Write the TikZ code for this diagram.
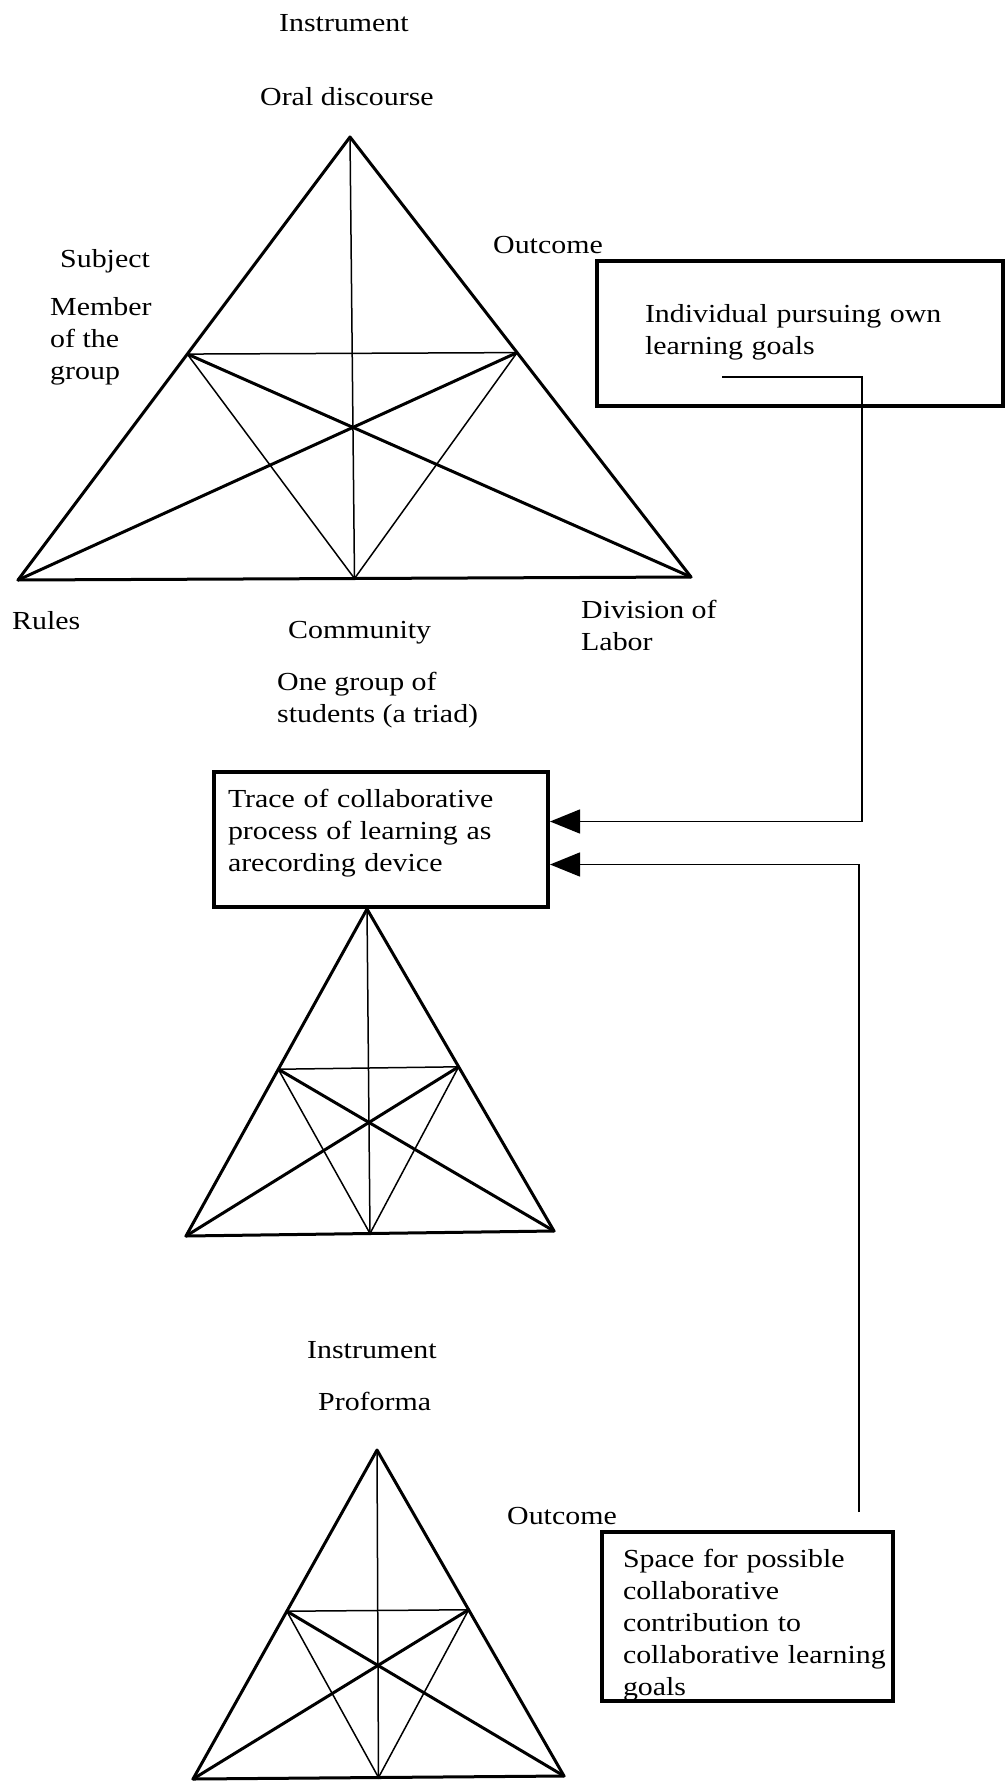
\documentclass[tikz,border=0pt]{standalone}
\usepackage{fontspec}
\setmainfont{Liberation Serif}[FakeStretch=1.15]
\usetikzlibrary{calc,arrows.meta}
\tikzset{
	heavy/.style={line width=3pt, line join=round, line cap=round},
	light/.style={line width=1.5pt, line cap=round},
	txt/.style={inner sep=0pt, anchor=base west, align=left, font=\fontsize{26}{32}\selectfont},
	box/.style={rectangle, draw=black, line width=4pt, anchor=north west, align=left, inner ysep=0pt, font=\fontsize{26}{32}\selectfont},
	connect/.style={-{Triangle[length=30pt,width=24pt]}, line width=1.5pt}
}
% one activity triangle, drawn from its three corners #1-top, #1-bl, #1-br
\newcommand{\actweb}[1]{%
	\coordinate (#1-lm) at ($(#1-top)!0.49!(#1-bl)$);
	\coordinate (#1-rm) at ($(#1-top)!0.49!(#1-br)$);
	\coordinate (#1-bm) at ($(#1-bl)!0.5!(#1-br)$);
	\draw[heavy] (#1-top) -- (#1-bl) -- (#1-br) -- cycle;
	\draw[heavy] (#1-lm) -- (#1-br);
	\draw[heavy] (#1-rm) -- (#1-bl);
	\draw[light] (#1-lm) -- (#1-rm);
	\draw[light] (#1-lm) -- (#1-bm) -- (#1-rm);
	\draw[light] (#1-top) -- (#1-bm);
}

\begin{document}
\begin{tikzpicture}[x=1pt,y=-1pt]
\useasboundingbox (0,0) rectangle (1007,1784);

% first triangle: oral discourse
\coordinate (t1-top) at (350,137);
\coordinate (t1-bl) at (18,580);
\coordinate (t1-br) at (691,577);
\actweb{t1}
% (multi-line labels sit on their last line)
\node[txt] (instr1) at (279,32) {Instrument};
\node[txt] (oral) at (260,106) {Oral discourse};
\node[txt] (subject) at (60,268) {Subject};
\node[txt] (member) at (50,379) {Member\\of the\\group};
\node[txt] (outcome1) at (493,254) {Outcome};
\node[txt] (rules) at (12,629) {Rules};
\node[txt] (community) at (288,638) {Community};
\node[txt] (division) at (581,650) {Division of\\Labor};
\node[txt] (onegroup) at (277,722) {One group of\\students (a triad)};

\node[box, text width=310pt, inner xsep=48pt, text height=62pt, text depth=83pt] (indiv) at (595,259) {Individual pursuing own\\learning goals};

% second triangle: the trace
\node[box, text width=306pt, inner xsep=14pt, text height=35pt, text depth=100pt] (trace) at (212,770) {Trace of collaborative\\process of learning as\\arecording device};
\coordinate (t2-top) at (367,909);
\coordinate (t2-bl) at (186,1236);
\coordinate (t2-br) at (554,1231);
\actweb{t2}

% third triangle: proforma
\node[txt] (instr3) at (307,1358) {Instrument};
\node[txt] (proforma) at (318,1410) {Proforma};
\node[txt] (outcome3) at (507,1524) {Outcome};
\coordinate (t3-top) at (377,1450);
\coordinate (t3-bl) at (193,1779);
\coordinate (t3-br) at (564,1776);
\actweb{t3}

\node[box, text width=249pt, inner xsep=21pt, text height=35pt, text depth=134pt] (space) at (600,1530) {Space for possible\\collaborative\\contribution to\\\mbox{collaborative learning}\\goals};

% connectors into the trace box
\coordinate (goals-tail) at (722,377);
\coordinate (space-tail) at (859,1512);
\draw[connect] (goals-tail) -- ++(140,0) |- ([yshift=18pt]trace.east);
\draw[connect] (space-tail) |- ([yshift=-25pt]trace.east);
\end{tikzpicture}
\end{document}
